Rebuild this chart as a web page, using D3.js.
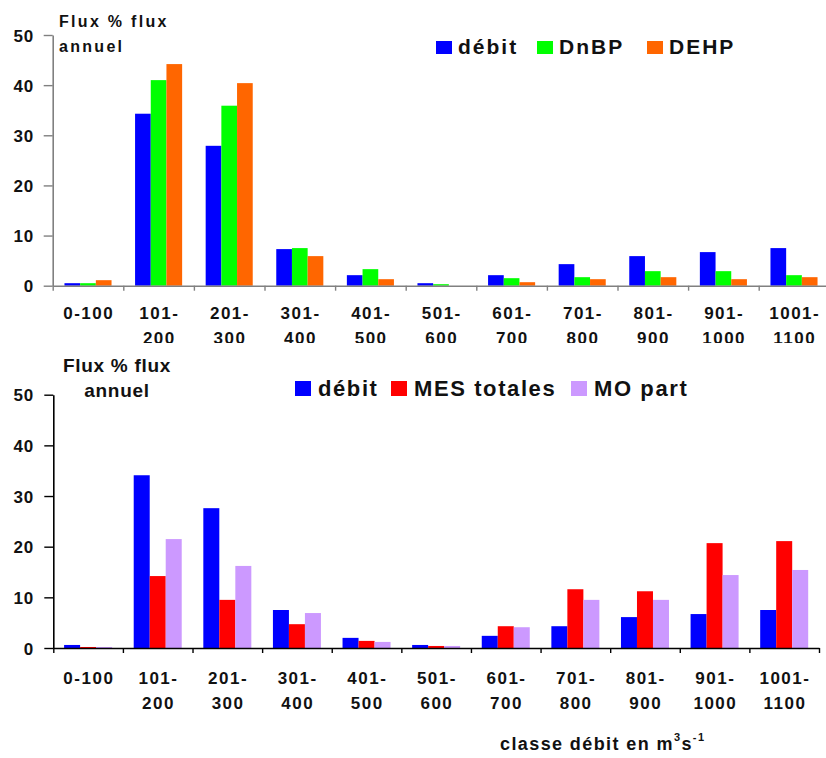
<!DOCTYPE html>
<html>
<head>
<meta charset="utf-8">
<script src="https://cdn.jsdelivr.net/npm/d3@7"></script>
<style>
  body { margin: 0; background: #fff; }
  svg { display: block; font-family: "Liberation Sans", Arial, sans-serif; font-weight: bold; }
</style>
</head>
<body>
<script>
// classes de débit (m3/s)
var categories = ["0-100", "101-200", "201-300", "301-400", "401-500", "501-600",
                  "601-700", "701-800", "801-900", "901-1000", "1001-1100"];
var yTicks = [0, 10, 20, 30, 40, 50];

// panneau du haut
var topSeries = ["débit", "DnBP", "DEHP"];
var topColors = ["#0000ff", "#00ff00", "#ff6600"];
var topDebit = [0.5, 34.3, 27.9, 7.3, 2.1, 0.5, 2.1, 4.3, 5.9, 6.7, 7.5];
var topDnBP  = [0.5, 41.0, 35.9, 7.5, 3.3, 0.3, 1.5, 1.7, 2.9, 2.9, 2.1];
var topDEHP  = [1.1, 44.2, 40.4, 5.9, 1.3, 0.0, 0.7, 1.3, 1.7, 1.3, 1.7];

// panneau du bas
var botSeries = ["débit", "MES totales", "MO part"];
var botColors = ["#0000ff", "#ff0000", "#cc99ff"];
var botDebit = [0.6, 34.1, 27.6, 7.5, 2.0, 0.6, 2.4, 4.3, 6.1, 6.7, 7.5];
var botMES   = [0.2, 14.2, 9.5, 4.7, 1.4, 0.4, 4.3, 11.6, 11.2, 20.7, 21.1];
var botMO    = [0.2, 21.5, 16.2, 6.9, 1.2, 0.4, 4.1, 9.5, 9.5, 14.4, 15.4];

var svg = d3.select("body").append("svg")
    .attr("width", 826)
    .attr("height", 758);

// the top picture is cut just under its labels
svg.append("clipPath").attr("id", "clipTop")
    .append("rect").attr("x", 0).attr("y", 0).attr("width", 826).attr("height", 343);

function lines(c) {
    if (c === "0-100") return [c];
    var p = c.split("-");
    return [p[0] + "-", p[1]];
}

function drawPanel(g, o) {
    var x0 = d3.scaleBand().domain(categories).range([o.left, o.right]).padding(0);
    var x1 = d3.scaleBand().domain(o.series).range([0, x0.bandwidth()])
        .paddingInner(0).paddingOuter(o.outer);
    var y = d3.scaleLinear().domain([0, 50]).range([o.bottom, o.top]);
    var idx = d3.scaleLinear().domain([0, categories.length]).range([o.left, o.right]);

    var rows = categories.map(function(c, i) {
        return { cat: c, vals: o.values.map(function(v) { return v[i]; }) };
    });

    // bars
    var grp = g.selectAll(".grp").data(rows).enter().append("g")
        .attr("transform", function(d) { return "translate(" + x0(d.cat) + ",0)"; });
    grp.selectAll("rect")
        .data(function(d) { return d.vals.map(function(v, k) { return { s: o.series[k], v: v, k: k }; }); })
        .enter().append("rect")
        .attr("x", function(d) { return x1(d.s); })
        .attr("width", x1.bandwidth())
        .attr("y", function(d) { return y(d.v); })
        .attr("height", function(d) { return y(0) - y(d.v); })
        .attr("fill", function(d) { return o.colors[d.k]; });

    // x axis: ticks between classes
    var xa = g.append("g")
        .attr("transform", "translate(0," + o.bottom + ")")
        .call(d3.axisBottom(idx).tickValues(d3.range(categories.length + 1))
            .tickSize(5).tickSizeOuter(0).tickFormat(""));
    xa.select(".domain").attr("stroke", o.axisColor).attr("stroke-width", 1.6);
    xa.selectAll(".tick line").attr("stroke", o.axisColor).attr("stroke-width", 1.4);

    // y axis
    var ya = g.append("g")
        .attr("transform", "translate(" + o.left + ",0)")
        .call(d3.axisLeft(y).tickValues(yTicks).tickSize(9).tickSizeOuter(0).tickFormat(""));
    ya.select(".domain").attr("stroke", o.axisColor).attr("stroke-width", 1.6);
    ya.selectAll(".tick line").attr("stroke", o.axisColor).attr("stroke-width", 1.4);

    g.selectAll(".ylab").data(yTicks).enter().append("text")
        .attr("x", 34)
        .attr("y", function(d) { return y(d) + 6.5; })
        .attr("text-anchor", "end")
        .style("font-size", "17px")
        .style("letter-spacing", "0.8px")
        .attr("fill", "#111")
        .text(function(d) { return d; });

    // class labels
    var lab = g.selectAll(".xlab").data(categories).enter().append("text")
        .attr("text-anchor", "middle")
        .style("font-size", "17px")
        .style("letter-spacing", "1.5px")
        .attr("fill", "#111");
    lab.selectAll("tspan").data(function(c) { return lines(c).map(function(t) { return { t: t, c: c }; }); })
        .enter().append("tspan")
        .attr("x", function(d) { return x0(d.c) + x0.bandwidth() / 2 + 0.75; })
        .attr("y", function(d, i) { return o.labelY + i * 25; })
        .text(function(d) { return d.t; });

    // legend
    o.series.forEach(function(s, k) {
        g.append("rect")
            .attr("x", o.legX[k]).attr("y", o.legY - o.legBox)
            .attr("width", 16).attr("height", o.legBox)
            .attr("fill", o.colors[k]);
        g.append("text")
            .attr("x", o.legX[k] + o.legGap).attr("y", o.legY)
            .style("font-size", o.legFont + "px")
            .style("letter-spacing", o.legSpacing + "px")
            .attr("fill", "#111")
            .text(s);
    });
}

var gTop = svg.append("g").attr("clip-path", "url(#clipTop)");
drawPanel(gTop, {
    series: topSeries, colors: topColors, values: [topDebit, topDnBP, topDEHP],
    left: 52.7, right: 829.3, top: 35, bottom: 285.7, outer: 0.75,
    axisColor: "#808080", labelY: 319,
    legX: [436, 537, 647], legY: 54, legBox: 13, legGap: 22, legFont: 21, legSpacing: 2
});
gTop.append("text")
    .attr("x", 59).attr("y", 27)
    .style("font-size", "16px").style("letter-spacing", "2.3px").attr("fill", "#111")
    .text("Flux % flux");
gTop.append("text")
    .attr("x", 59).attr("y", 52)
    .style("font-size", "16px").style("letter-spacing", "2.3px").attr("fill", "#111")
    .text("annuel");

var gBot = svg.append("g");
drawPanel(gBot, {
    series: botSeries, colors: botColors, values: [botDebit, botMES, botMO],
    left: 53.3, right: 819, top: 394.7, bottom: 648, outer: 0.675,
    axisColor: "#000", labelY: 684,
    legX: [295, 391, 571], legY: 396, legBox: 15, legGap: 23, legFont: 22, legSpacing: 1.6
});
gBot.append("text")
    .attr("x", 117).attr("y", 372).attr("text-anchor", "middle")
    .style("font-size", "19px").style("letter-spacing", "0.7px").attr("fill", "#111")
    .text("Flux % flux");
gBot.append("text")
    .attr("x", 117).attr("y", 397).attr("text-anchor", "middle")
    .style("font-size", "19px").style("letter-spacing", "0.7px").attr("fill", "#111")
    .text("annuel");

// axis title
var t = svg.append("text")
    .attr("x", 500).attr("y", 750)
    .style("font-size", "18px").style("letter-spacing", "1.4px").attr("fill", "#111");
t.append("tspan").text("classe débit en m");
t.append("tspan").attr("dy", -9).style("font-size", "11px").text("3");
t.append("tspan").attr("dy", 9).text("s");
t.append("tspan").attr("dy", -9).style("font-size", "11px").text("-1");
</script>
</body>
</html>
